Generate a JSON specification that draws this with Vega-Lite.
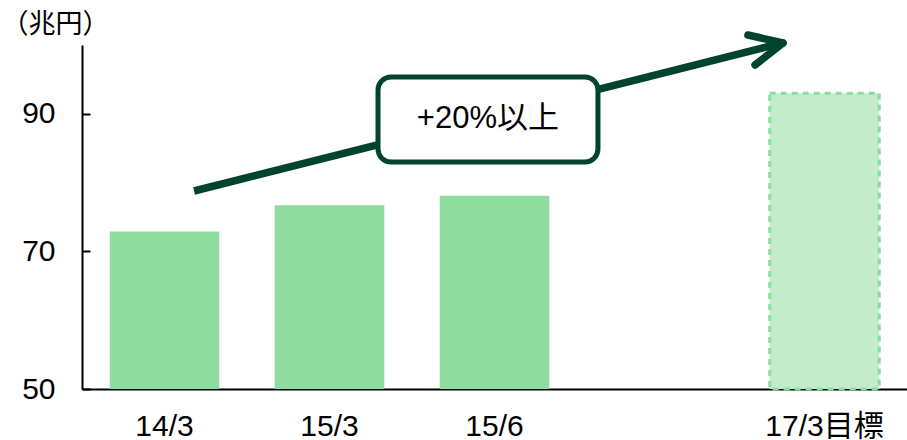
{
  "$schema": "https://vega.github.io/schema/vega-lite/v6.json",
  "autosize": "none",
  "width": 825,
  "height": 344,
  "padding": {"left": 82, "top": 45, "right": 0, "bottom": 51},
  "background": "white",
  "config": {
    "view": {"stroke": null},
    "font": "Liberation Sans, Noto Sans CJK JP",
    "axis": {"labelFont": "Liberation Sans, Noto Sans CJK JP", "titleFont": "Liberation Sans, Noto Sans CJK JP"}
  },
  "datasets": {
    "bars": [
      {"period": "14/3", "value": 72.9, "kind": "actual"},
      {"period": "15/3", "value": 76.7, "kind": "actual"},
      {"period": "15/6", "value": 78.1, "kind": "actual"},
      {"period": "17/3目標", "value": 93.0, "kind": "target"}
    ],
    "shaft": [
      {"x": 0.679, "y": 78.78, "xe": 4.235, "ye": 100.22}
    ],
    "head": [
      {"x": 4.036, "y": 101.45, "xe": 4.248, "ye": 100.29},
      {"x": 4.079, "y": 97.09, "xe": 4.248, "ye": 100.29}
    ],
    "box": [
      {"x": 1.794, "xe": 3.127, "y": 83.0, "ye": 95.35, "xm": 2.46, "ym": 89.2, "label": "+20%以上"}
    ]
  },
  "resolve": {"scale": {"x": "independent"}},
  "layer": [
    {
      "data": {"name": "bars"},
      "transform": [{"filter": "datum.kind === 'actual'"}],
      "mark": {"type": "bar", "color": "#8edc9f"},
      "encoding": {
        "x": {
          "field": "period", "type": "nominal",
          "scale": {"domain": ["14/3", "15/3", "15/6", " ", "17/3目標"], "paddingInner": 0.336, "paddingOuter": 0.168},
          "axis": {"title": null, "labelAngle": 0, "labelFontSize": 30, "labelColor": "#000", "labelPadding": 22, "ticks": false, "domainColor": "#000", "domainWidth": 2}
        },
        "y": {
          "field": "value", "type": "quantitative",
          "scale": {"domain": [50, 100], "nice": false, "zero": false},
          "axis": {
            "values": [50, 70, 90], "grid": false,
            "title": "（兆円）", "titleAngle": 0, "titleAlign": "left", "titleBaseline": "middle",
            "titleX": -81, "titleY": -21, "titleFontSize": 27, "titleFontWeight": "normal", "titleColor": "#000",
            "labelFontSize": 30, "labelColor": "#000", "labelPadding": 35,
            "tickSize": -8, "tickColor": "#000", "tickWidth": 2, "domainColor": "#000", "domainWidth": 2
          }
        },
        "y2": {"datum": 50}
      }
    },
    {
      "data": {"name": "bars"},
      "transform": [{"filter": "datum.kind === 'target'"}],
      "mark": {"type": "bar", "fill": "#c2ecca", "stroke": "#8edc9f", "strokeWidth": 3, "strokeDash": [6, 5]},
      "encoding": {
        "x": {"field": "period", "type": "nominal", "scale": {"domain": ["14/3", "15/3", "15/6", " ", "17/3目標"], "paddingInner": 0.336, "paddingOuter": 0.168}, "axis": null},
        "y": {"field": "value", "type": "quantitative", "scale": {"domain": [50, 100], "nice": false, "zero": false}},
        "y2": {"datum": 50}
      }
    },
    {
      "data": {"name": "shaft"},
      "mark": {"type": "rule", "color": "#00432e", "strokeWidth": 7.5, "strokeCap": "butt"},
      "encoding": {
        "x": {"field": "x", "type": "quantitative", "scale": {"domain": [0, 5], "nice": false, "zero": false}, "axis": null},
        "x2": {"field": "xe"},
        "y": {"field": "y", "type": "quantitative"},
        "y2": {"field": "ye"}
      }
    },
    {
      "data": {"name": "head"},
      "mark": {"type": "rule", "color": "#00432e", "strokeWidth": 7.5, "strokeCap": "round"},
      "encoding": {
        "x": {"field": "x", "type": "quantitative", "scale": {"domain": [0, 5], "nice": false, "zero": false}, "axis": null},
        "x2": {"field": "xe"},
        "y": {"field": "y", "type": "quantitative"},
        "y2": {"field": "ye"}
      }
    },
    {
      "data": {"name": "box"},
      "mark": {"type": "rect", "fill": "white", "stroke": "#00432e", "strokeWidth": 5, "cornerRadius": 13},
      "encoding": {
        "x": {"field": "x", "type": "quantitative", "scale": {"domain": [0, 5], "nice": false, "zero": false}, "axis": null},
        "x2": {"field": "xe"},
        "y": {"field": "y", "type": "quantitative"},
        "y2": {"field": "ye"}
      }
    },
    {
      "data": {"name": "box"},
      "mark": {"type": "text", "fontSize": 31, "color": "#000", "align": "center", "baseline": "middle"},
      "encoding": {
        "x": {"field": "xm", "type": "quantitative", "scale": {"domain": [0, 5], "nice": false, "zero": false}, "axis": null},
        "y": {"field": "ym", "type": "quantitative"},
        "text": {"field": "label"}
      }
    }
  ]
}
